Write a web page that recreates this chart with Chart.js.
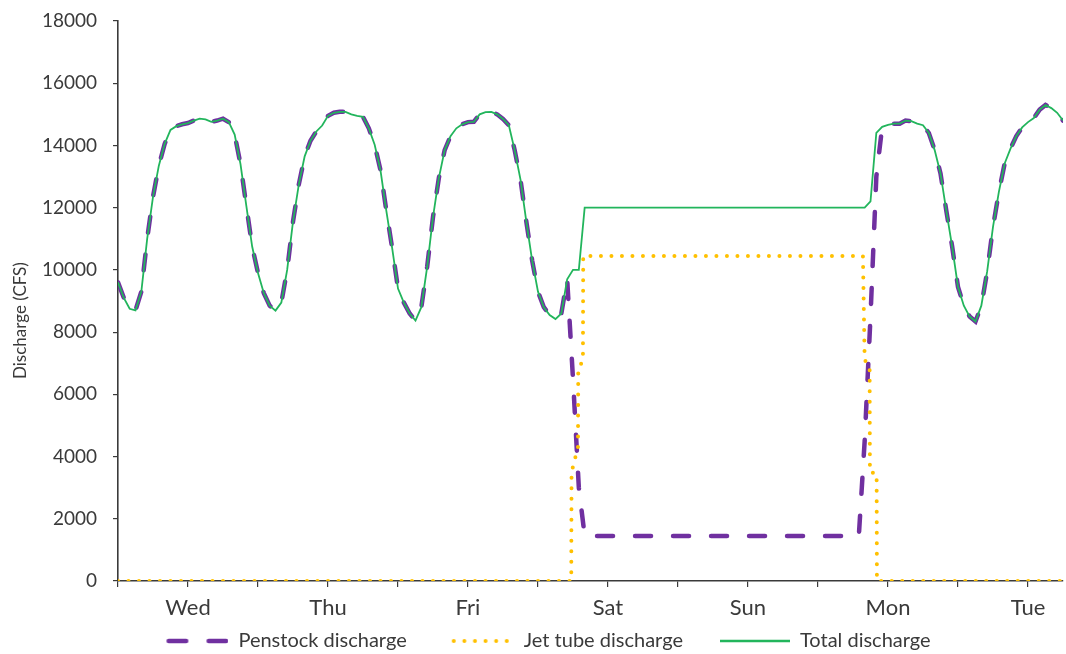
<!DOCTYPE html>
<html>
<head>
<meta charset="utf-8">
<script src="https://cdn.jsdelivr.net/npm/chart.js@4"></script>
<style>
  html, body { margin: 0; padding: 0; background: #fff; }
  #wrap { width: 1066px; height: 654px; position: relative; }
</style>
</head>
<body>
<div id="wrap"><canvas id="c" width="1066" height="654"></canvas></div>
<script>
// ---- Data (hours from Wednesday 00:00) ----
const dayNames = ['Wed', 'Thu', 'Fri', 'Sat', 'Sun', 'Mon', 'Tue'];
const tickHours = [0, 12, 24, 36, 48, 60, 72, 84, 96, 108, 120, 132, 144, 156];
const yTicks = [0, 2000, 4000, 6000, 8000, 10000, 12000, 14000, 16000, 18000];

// hourly series, hour 0 .. 162
const totalDischarge = [
  9600, 9100, 8750, 8700, 9300, 11000, 12350, 13350, 14050, 14500, 14620, 14680,
  14720, 14800, 14860, 14840, 14760, 14800, 14860, 14750, 14350, 13400, 12060, 10750,
  9900, 9250, 8850, 8690, 8950, 10000, 11550, 12750, 13650, 14150, 14450, 14640,
  14950, 15050, 15080, 15080, 15000, 14950, 14920, 14550, 14020, 13200, 11900, 10700,
  9400, 8950, 8600, 8370, 8800, 10100, 11700, 12950, 13850, 14300, 14550, 14680,
  14750, 14760, 15000, 15070, 15080, 15000, 14850, 14650, 13850, 12900, 11550, 10300,
  9300, 8800, 8550, 8420, 8600, 9700, 10000, 10000, 12000, 12000, 12000, 12000,
  12000, 12000, 12000, 12000, 12000, 12000, 12000, 12000, 12000, 12000, 12000, 12000,
  12000, 12000, 12000, 12000, 12000, 12000, 12000, 12000, 12000, 12000, 12000, 12000,
  12000, 12000, 12000, 12000, 12000, 12000, 12000, 12000, 12000, 12000, 12000, 12000,
  12000, 12000, 12000, 12000, 12000, 12000, 12000, 12000, 12000, 12200, 14400, 14600,
  14660, 14700, 14700, 14800, 14780, 14700, 14650, 14400, 13850, 13100, 11900, 10750,
  9450, 8850, 8500, 8340, 8850, 9950, 11380, 12500, 13420, 13900, 14300, 14580,
  14750, 14880, 15150, 15300, 15200, 15050, 14800
];
const penstockDischarge = [
  9600, 9100, 8750, 8700, 9300, 11000, 12350, 13350, 14050, 14500, 14620, 14680,
  14720, 14800, 14860, 14840, 14760, 14800, 14860, 14750, 14350, 13400, 12060, 10750,
  9900, 9250, 8850, 8690, 8950, 10000, 11550, 12750, 13650, 14150, 14450, 14640,
  14950, 15050, 15080, 15080, 15000, 14950, 14920, 14550, 14020, 13200, 11900, 10700,
  9400, 8950, 8600, 8370, 8800, 10100, 11700, 12950, 13850, 14300, 14550, 14680,
  14750, 14760, 15000, 15070, 15080, 15000, 14850, 14650, 13850, 12900, 11550, 10300,
  9300, 8800, 8550, 8420, 8600, 9700, 6500, 3000, 1450, 1450, 1450, 1450,
  1450, 1450, 1450, 1450, 1450, 1450, 1450, 1450, 1450, 1450, 1450, 1450,
  1450, 1450, 1450, 1450, 1450, 1450, 1450, 1450, 1450, 1450, 1450, 1450,
  1450, 1450, 1450, 1450, 1450, 1450, 1450, 1450, 1450, 1450, 1450, 1450,
  1450, 1450, 1450, 1450, 1450, 1450, 1450, 1450, 4500, 8500, 13000, 14600,
  14660, 14700, 14700, 14800, 14780, 14700, 14650, 14400, 13850, 13100, 11900, 10750,
  9450, 8850, 8500, 8340, 8850, 9950, 11380, 12500, 13420, 13900, 14300, 14580,
  14750, 14880, 15150, 15300, 15200, 15050, 14800
];
// jet tube discharge: break points (hour, value)
const jetHours  = [0, 77.7, 77.75, 78.85, 78.9, 79.7, 79.75, 127.7, 128.0, 128.85, 128.9, 130.05, 130.1, 162];
const jetValues = [0, 0,    3500,  4300,  6800, 7100, 10450, 10450, 7100,  6900,   3500,  3450,   0,     0];

const hourLabels = totalDischarge.map((_, i) => i);

const FONT = 'Lato';
const TXT = '#3a3a3a';
const AX = '#3a3a3a';
const PURPLE = '#7030A0';
const YELLOW = '#FFC000';
const GREEN = '#22B55C';

// legend line samples (drawn as small images used as legend point styles)
const SW_W = 96, SW_LEAD = 34;
function makeSwatch(draw) {
  const c = document.createElement('canvas');
  c.width = SW_W; c.height = 10;
  const g = c.getContext('2d');
  draw(g);
  return c;
}
const swatches = [
  makeSwatch(g => {
    g.strokeStyle = PURPLE; g.lineWidth = 4.5; g.lineCap = 'round';
    g.setLineDash([17.5, 22.5]);
    g.beginPath(); g.moveTo(SW_LEAD + 2.25, 5); g.lineTo(SW_LEAD + 59.75, 5); g.stroke();
  }),
  makeSwatch(g => {
    g.strokeStyle = YELLOW; g.lineWidth = 4; g.lineCap = 'round';
    g.setLineDash([0, 10.6]);
    g.beginPath(); g.moveTo(SW_LEAD + 2, 5); g.lineTo(SW_LEAD + 56, 5); g.stroke();
  }),
  makeSwatch(g => {
    g.strokeStyle = GREEN; g.lineWidth = 2.5;
    g.beginPath(); g.moveTo(SW_LEAD - 8, 5); g.lineTo(SW_LEAD + 62, 5); g.stroke();
  })
];

const ctx = document.getElementById('c').getContext('2d');
new Chart(ctx, {
  type: 'line',
  data: {
    labels: hourLabels,
    datasets: [
      {
        label: 'Penstock discharge',
        data: penstockDischarge,
        borderColor: PURPLE,
        backgroundColor: PURPLE,
        borderWidth: 4.5,
        borderDash: [16, 22],
        borderCapStyle: 'round',
        pointRadius: 0,
        tension: 0,
        order: 3
      },
      {
        label: 'Jet tube discharge',
        data: jetHours.map((h, i) => ({ x: h, y: jetValues[i] })),
        borderColor: YELLOW,
        backgroundColor: YELLOW,
        borderWidth: 4,
        borderDash: [0, 10.5],
        borderCapStyle: 'round',
        pointRadius: 0,
        tension: 0,
        order: 2
      },
      {
        label: 'Total discharge',
        data: totalDischarge,
        borderColor: GREEN,
        backgroundColor: GREEN,
        borderWidth: 1.8,
        pointRadius: 0,
        tension: 0,
        order: 1
      }
    ]
  },
  options: {
    responsive: false,
    animation: false,
    devicePixelRatio: 1,
    layout: { padding: { left: 0, right: 3, top: 21, bottom: 0 } },
    plugins: {
      tooltip: { enabled: false },
      legend: {
        position: 'bottom',
        maxHeight: 34,
        labels: {
          usePointStyle: true,
          pointStyleWidth: SW_W,
          boxHeight: 10,
          padding: 11,
          color: TXT,
          font: { family: FONT, size: 20 },
          sort: (a, b) => a.datasetIndex - b.datasetIndex,
          generateLabels: (chart) => {
            const items = Chart.defaults.plugins.legend.labels.generateLabels(chart);
            items.forEach(it => { it.pointStyle = swatches[it.datasetIndex]; });
            return items;
          }
        }
      }
    },
    scales: {
      x: {
        type: 'linear',
        min: 0,
        max: 162,
        afterBuildTicks: (scale) => { scale.ticks = tickHours.map(v => ({ value: v })); },
        afterFit: (scale) => { scale.height = 39; },
        ticks: {
          autoSkip: false,
          maxRotation: 0,
          padding: 8,
          color: TXT,
          font: { family: FONT, size: 22 },
          callback: (v) => (v % 24 === 12 ? dayNames[(v - 12) / 24] : '')
        },
        grid: { display: true, drawOnChartArea: false, drawTicks: true, tickLength: 6, color: AX, lineWidth: 1.2 },
        border: { display: true, color: AX, width: 1.6 }
      },
      y: {
        min: 0,
        max: 18000,
        afterBuildTicks: (scale) => { scale.ticks = yTicks.map(v => ({ value: v })); },
        afterFit: (scale) => { scale.width = 118; scale.paddingTop = 0; scale.paddingBottom = 0; },
        ticks: {
          padding: 16,
          color: TXT,
          font: { family: FONT, size: 19 },
          callback: (v) => String(v)
        },
        title: {
          display: true,
          text: 'Discharge (CFS)         ',
          color: TXT,
          font: { family: FONT, size: 17 },
          padding: { top: 10, bottom: 0 }
        },
        grid: { display: true, drawOnChartArea: false, drawTicks: true, tickLength: 5, color: AX, lineWidth: 1.2 },
        border: { display: true, color: AX, width: 1.6 }
      }
    }
  }
});
</script>
</body>
</html>
